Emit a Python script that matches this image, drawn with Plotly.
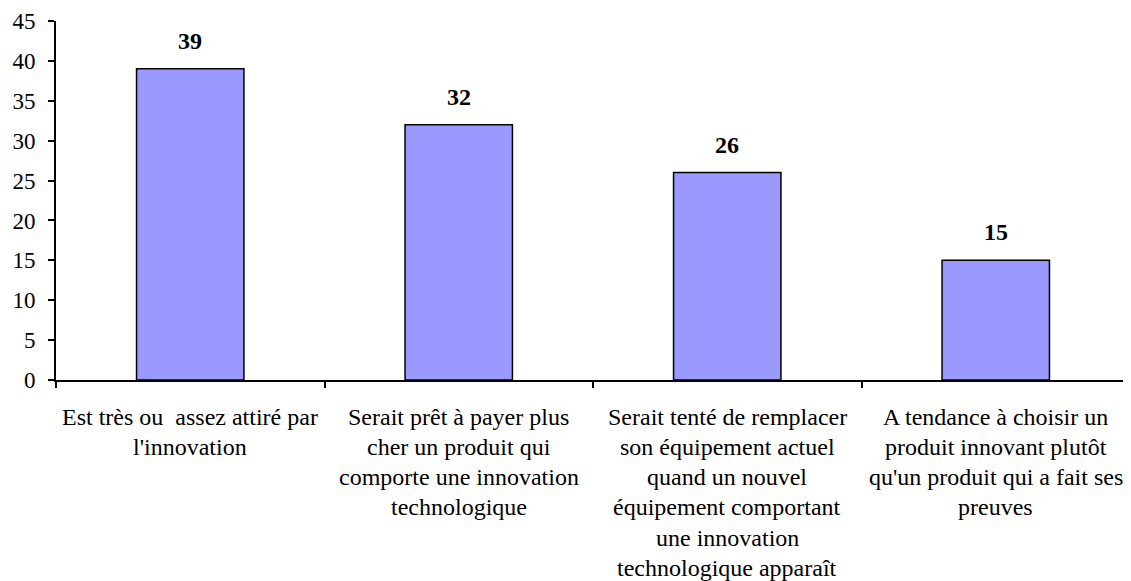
import plotly.graph_objects as go

categories = [
    ["Est très ou  assez attiré par", "l'innovation"],
    ["Serait prêt à payer plus", "cher un produit qui", "comporte une innovation", "technologique"],
    ["Serait tenté de remplacer", "son équipement actuel", "quand un nouvel", "équipement comportant", "une innovation", "technologique apparaît"],
    ["A tendance à choisir un", "produit innovant plutôt", "qu'un produit qui a fait ses", "preuves"],
]
values = [39, 32, 26, 15]
y_ticks = [0, 5, 10, 15, 20, 25, 30, 35, 40, 45]

keys = [" ".join(c) for c in categories]
FONT = "Liberation Serif"

fig = go.Figure(go.Bar(
    x=keys, y=values, width=0.4,
    marker=dict(color="#9999FF", line=dict(color="black", width=1.5)),
    hoverinfo="skip",
))

annotations = []
for k, v in zip(keys, values):
    annotations.append(dict(x=k, y=v, xref="x", yref="y", text=f"<b>{v}</b>",
                            showarrow=False, yshift=28,
                            font=dict(family=FONT, size=24, color="black")))
for k, lines in zip(keys, categories):
    for i, line in enumerate(lines):
        annotations.append(dict(x=k, y=0, xref="x", yref="y", text=line,
                                showarrow=False, yshift=-36.5 - 30.3 * i,
                                font=dict(family=FONT, size=24, color="black")))

# page body has an 8px margin; compensate so the plot lands where the reference has it
fig.update_layout(
    width=1123, height=573,
    margin=dict(l=48, r=1, t=13, b=201, autoexpand=False),
    paper_bgcolor="white", plot_bgcolor="white",
    showlegend=False,
    annotations=annotations,
    font=dict(family=FONT, size=22, color="black"),
)
fig.update_xaxes(
    type="category", range=[-0.5, 3.5], showticklabels=False,
    showline=True, linecolor="black", linewidth=2,
    ticks="outside", tickson="boundaries", ticklen=6, tickwidth=2, tickcolor="black",
    showgrid=False, zeroline=False, automargin=False,
)
fig.update_yaxes(
    range=[0, 45], tickvals=y_ticks,
    showline=True, linecolor="black", linewidth=2,
    ticks="outside", ticklen=6, tickwidth=2, tickcolor="black",
    showgrid=False, zeroline=False, automargin=False,
    ticklabelstandoff=8,
    tickfont=dict(family=FONT, size=23, color="black"),
)

fig.write_html("out.html")
